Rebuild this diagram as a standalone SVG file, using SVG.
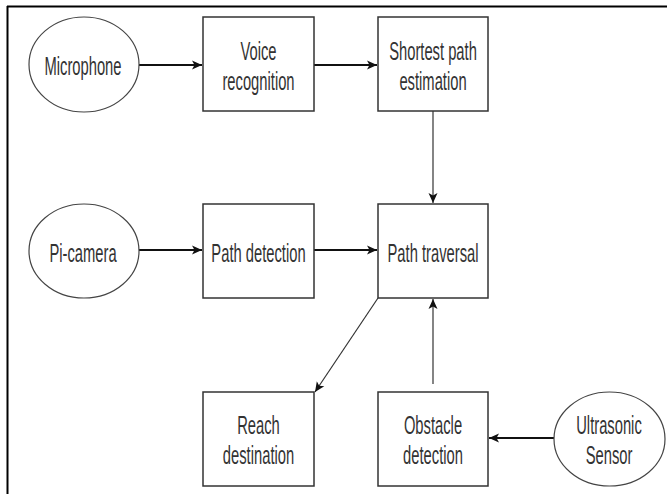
<svg xmlns="http://www.w3.org/2000/svg" width="667" height="494" viewBox="0 0 667 494">
<style>
.box{fill:#fff;stroke:#333;stroke-width:1.5}
.ell{fill:#fff;stroke:#444;stroke-width:1.2}
.lbl{font-family:"Liberation Sans",Arial,sans-serif;font-size:25px;fill:#333;text-anchor:middle}
.c{fill:none;stroke:#111;stroke-width:1.8}
.t{fill:none;stroke:#333;stroke-width:1.2}
</style>
<defs>
<marker id="ah" markerUnits="userSpaceOnUse" markerWidth="12" markerHeight="12" refX="10" refY="5" orient="auto" viewBox="0 0 12 10">
<path d="M0,0.5 L10,5 L0,9.5 L2.5,5 Z" fill="#111"/>
</marker>
</defs>
<rect width="667" height="494" fill="#fff"/>
<g id="frame">
<line x1="7" y1="6.5" x2="667" y2="6.5" stroke="#000" stroke-width="2"/>
<line x1="7.5" y1="6" x2="7.5" y2="494" stroke="#000" stroke-width="2"/>
</g>
<g id="connectors">
<line class="c" x1="139" y1="65" x2="202" y2="65" marker-end="url(#ah)"/>
<line class="c" x1="314" y1="65" x2="377" y2="65" marker-end="url(#ah)"/>
<line class="t" x1="433" y1="111" x2="433" y2="203" marker-end="url(#ah)"/>
<line class="c" x1="139" y1="250" x2="202" y2="250" marker-end="url(#ah)"/>
<line class="c" x1="314" y1="250" x2="377" y2="250" marker-end="url(#ah)"/>
<line class="t" x1="378" y1="298" x2="315" y2="392" marker-end="url(#ah)"/>
<line class="t" x1="433" y1="384" x2="433" y2="299" marker-end="url(#ah)"/>
<line class="c" x1="554" y1="438" x2="489" y2="438" marker-end="url(#ah)"/>
</g>
<g id="microphone">
<ellipse class="ell" cx="84" cy="64.5" rx="55" ry="47.5"/>
<text class="lbl" transform="matrix(0.59 0 0 1 83 75)">Microphone</text>
</g>
<g id="voice-recognition">
<rect class="box" x="203" y="17" width="111" height="94"/>
<text class="lbl" transform="matrix(0.59 0 0 1 258.5 60)">Voice</text>
<text class="lbl" transform="matrix(0.59 0 0 1 258.5 89.5)">recognition</text>
</g>
<g id="shortest-path">
<rect class="box" x="378" y="17" width="110" height="94"/>
<text class="lbl" transform="matrix(0.59 0 0 1 433 60)">Shortest path</text>
<text class="lbl" transform="matrix(0.59 0 0 1 433 89.5)">estimation</text>
</g>
<g id="pi-camera">
<ellipse class="ell" cx="84" cy="251" rx="55" ry="47"/>
<text class="lbl" transform="matrix(0.59 0 0 1 83 262)">Pi-camera</text>
</g>
<g id="path-detection">
<rect class="box" x="203" y="204" width="111" height="94"/>
<text class="lbl" transform="matrix(0.59 0 0 1 258.5 262)">Path detection</text>
</g>
<g id="path-traversal">
<rect class="box" x="378" y="204" width="110" height="94"/>
<text class="lbl" transform="matrix(0.59 0 0 1 433 262)">Path traversal</text>
</g>
<g id="reach-destination">
<rect class="box" x="203" y="392" width="111" height="94"/>
<text class="lbl" transform="matrix(0.59 0 0 1 258.5 434)">Reach</text>
<text class="lbl" transform="matrix(0.59 0 0 1 258.5 463.5)">destination</text>
</g>
<g id="obstacle-detection">
<rect class="box" x="378" y="392" width="110" height="94"/>
<text class="lbl" transform="matrix(0.59 0 0 1 433 434)">Obstacle</text>
<text class="lbl" transform="matrix(0.59 0 0 1 433 463.5)">detection</text>
</g>
<g id="ultrasonic-sensor">
<ellipse class="ell" cx="609.5" cy="439" rx="55.5" ry="47"/>
<text class="lbl" transform="matrix(0.59 0 0 1 609 434)">Ultrasonic</text>
<text class="lbl" transform="matrix(0.59 0 0 1 609 463.5)">Sensor</text>
</g>
</svg>
